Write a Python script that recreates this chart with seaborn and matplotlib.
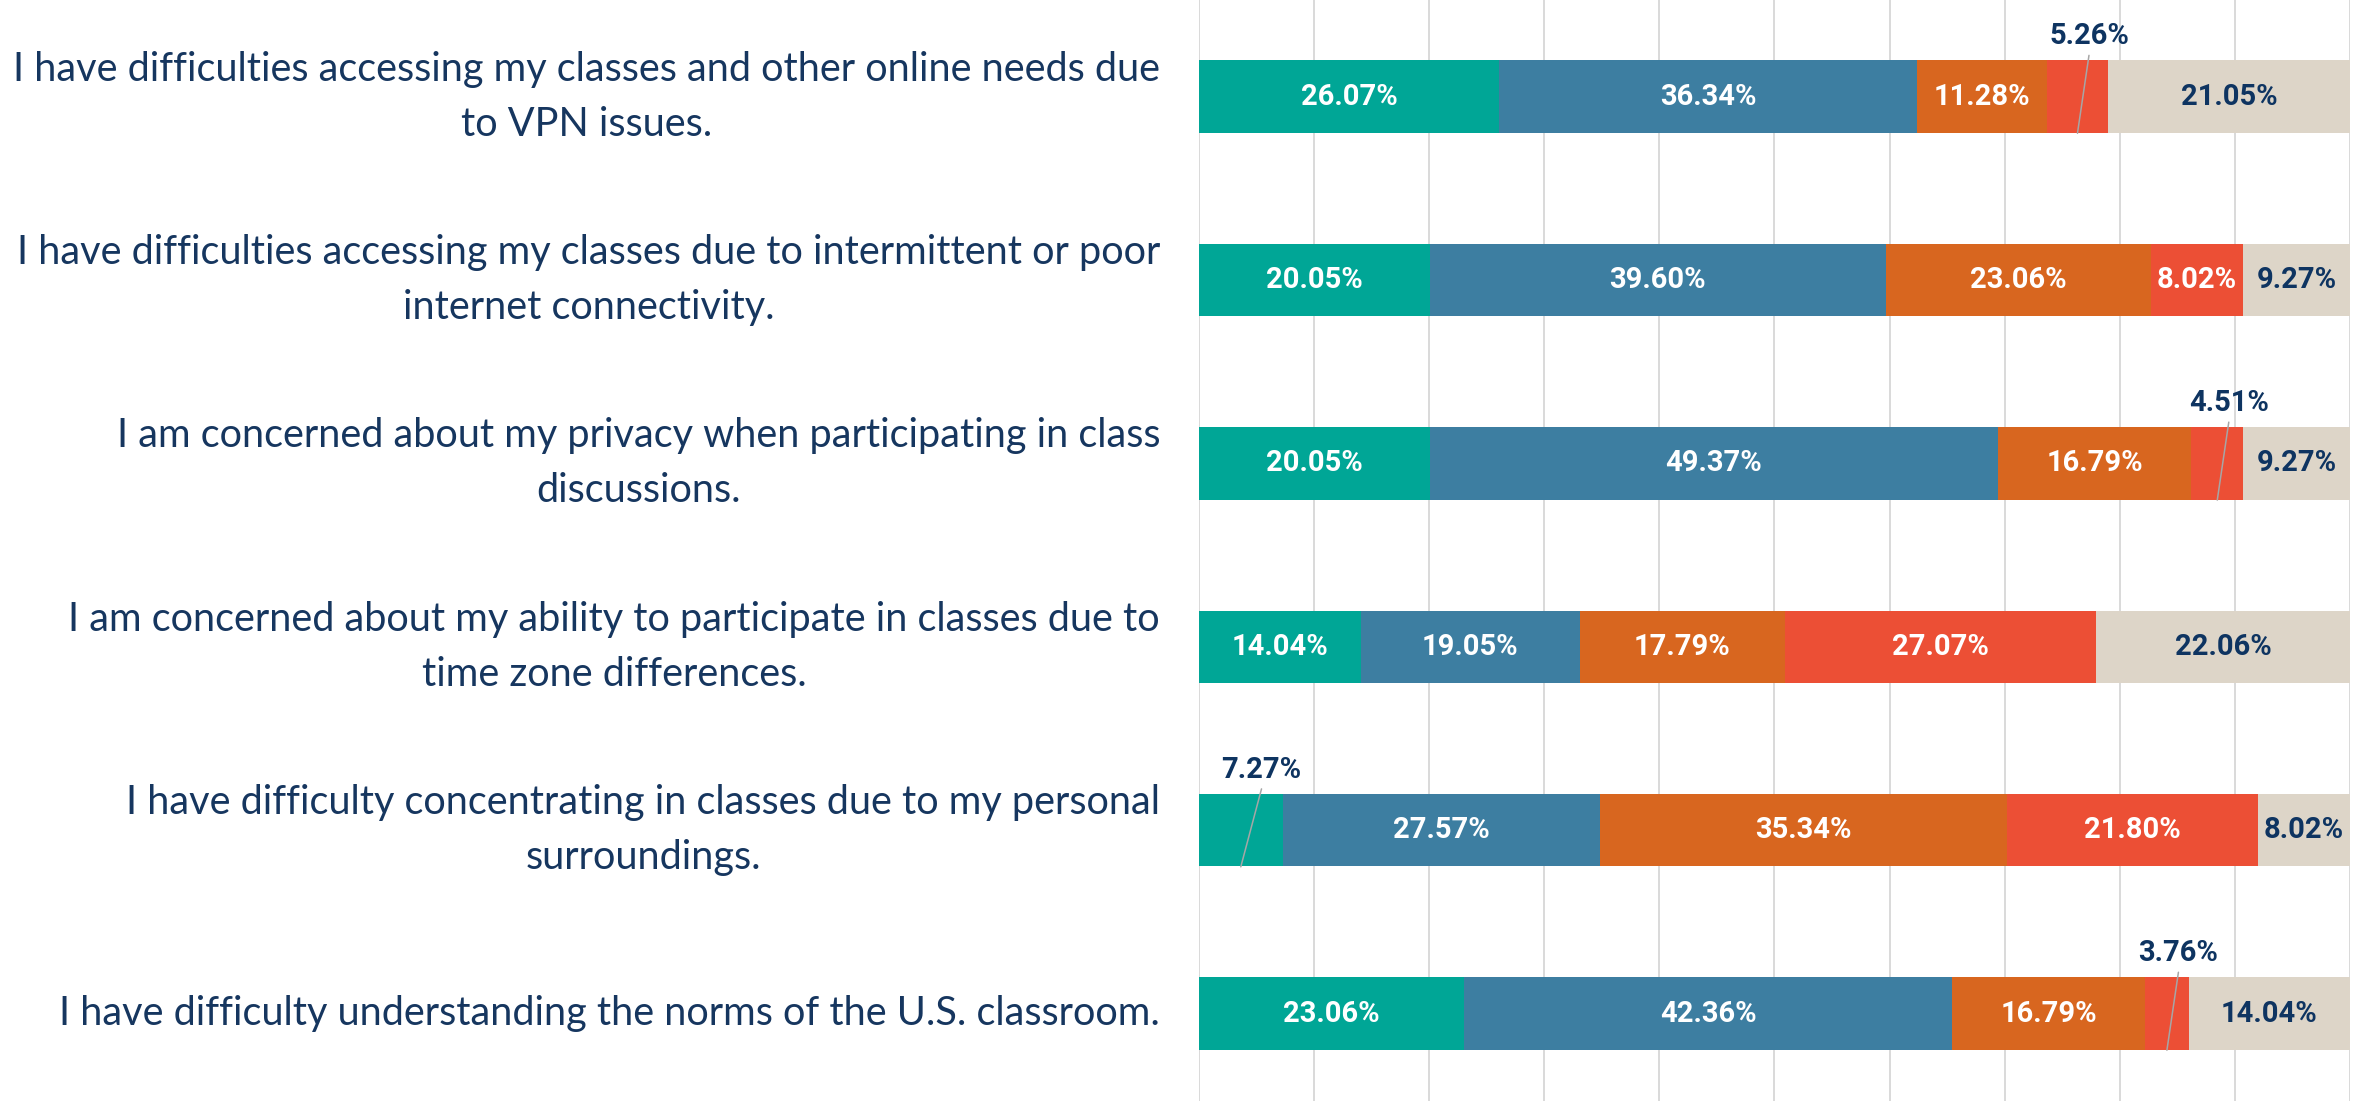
import numpy as np
import pandas as pd
import matplotlib
matplotlib.use("Agg")
import matplotlib.pyplot as plt
import seaborn as sns

questions = [
    "I have difficulties accessing my classes and other online needs due\nto VPN issues.",
    "I have difficulties accessing my classes due to intermittent or poor\ninternet connectivity.",
    "I am concerned about my privacy when participating in class\ndiscussions.",
    "I am concerned about my ability to participate in classes due to\ntime zone differences.",
    "I have difficulty concentrating in classes due to my personal\nsurroundings.",
    "I have difficulty understanding the norms of the U.S. classroom.",
]
strongly_agree = [26.07, 20.05, 20.05, 14.04, 7.27, 23.06]
agree = [36.34, 39.60, 49.37, 19.05, 27.57, 42.36]
disagree = [11.28, 23.06, 16.79, 17.79, 35.34, 16.79]
strongly_disagree = [5.26, 8.02, 4.51, 27.07, 21.80, 3.76]
not_applicable = [21.05, 9.27, 9.27, 22.06, 8.02, 14.04]

series = [strongly_agree, agree, disagree, strongly_disagree, not_applicable]
colors = ["#00A696", "#3D7EA1", "#D8661F", "#EC4F35", "#DDD5C8"]
navy = "#0E3461"
label_navy = "#16365F"

sns.set_style("white")
plt.rcParams["font.family"] = ["Lato", "DejaVu Sans"]

vals = np.array(series).T          # rows = questions, cols = segments
cum = np.cumsum(vals, axis=1)

fig = plt.figure(figsize=(23.69, 11.01), dpi=100)
ax = fig.add_axes([0.5061, 0.0, 0.4859, 1.0])

# stacked bars: draw cumulative totals from the back to the front
for k in range(len(series) - 1, -1, -1):
    df = pd.DataFrame({"question": questions, "total": cum[:, k]})
    sns.barplot(data=df, x="total", y="question", orient="h", color=colors[k],
                width=0.395, errorbar=None, linewidth=0, saturation=1, ax=ax)

ax.set_xlim(0, 100)
ax.set_ylim(5.477, -0.527)
ax.set_xticks(np.arange(0, 101, 10))
ax.set_xticklabels([])
ax.grid(axis="x", color="#D9D9D9", linewidth=1.4)
ax.grid(axis="y", visible=False)
ax.set_axisbelow(True)
for s in ax.spines.values():
    s.set_visible(False)
ax.set_xlabel("")
ax.set_ylabel("")
ax.tick_params(axis="both", length=0)
ax.tick_params(axis="y", pad=28)
for lbl in ax.get_yticklabels():
    lbl.set_fontsize(28.5)
    lbl.set_color(label_navy)
    lbl.set_multialignment("center")
    lbl.set_linespacing(1.6)
    lbl.set_verticalalignment("center")

lab_font = dict(fontsize=21, fontweight="bold", family=["Roboto", "DejaVu Sans"])

# data labels
for i in range(len(questions)):
    for k in range(len(series)):
        v = vals[i, k]
        cx = cum[i, k] - v / 2
        txt = f"{v:.2f}%"
        if v < 7.5:
            dx = 1.8 if k == 0 else 1.0
            ax.text(cx + dx, i - 0.33, txt, ha="center", va="center",
                    color=navy, **lab_font)
            ax.plot([cx + dx, cx], [i - 0.225, i + 0.2], color="#A6A6A6",
                    linewidth=1.1, zorder=5)
        else:
            c = navy if k == len(series) - 1 else "white"
            ax.text(cx, i, txt, ha="center", va="center", color=c, **lab_font)

fig.savefig("out.png", dpi=100)
